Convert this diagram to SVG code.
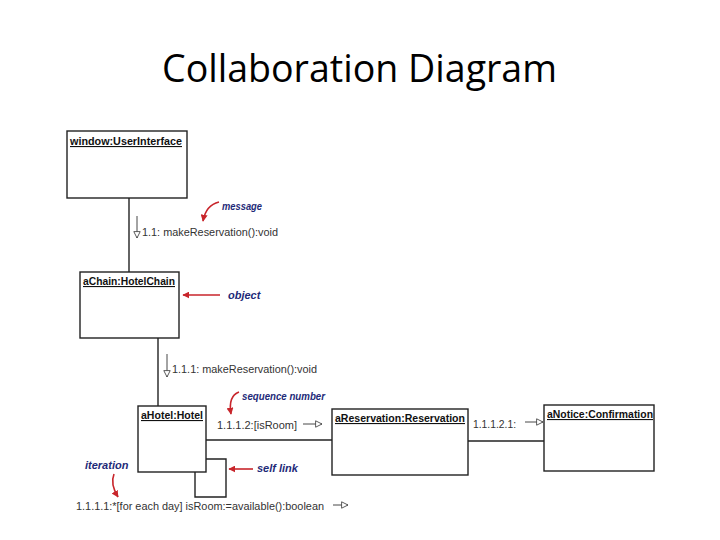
<svg xmlns="http://www.w3.org/2000/svg" width="720" height="540" viewBox="0 0 720 540">
<style>
.title{font-family:"Open Sans","Liberation Sans",sans-serif;font-size:38px;fill:#000}
.box{fill:#fff;stroke:#222;stroke-width:1.4}
.name{font-family:"Liberation Sans",Arial,sans-serif;font-size:11px;font-weight:bold;fill:#111;text-decoration:underline}
.msg{font-family:"Liberation Sans",Arial,sans-serif;font-size:11px;fill:#333}
.lnk{fill:none;stroke:#222;stroke-width:1.4}
.ann{font-family:"Liberation Sans",Arial,sans-serif;font-size:11px;font-style:italic;font-weight:bold;fill:#1e2a78}
.red{fill:none;stroke:#c8252b;stroke-width:1.6}
.dir{fill:none;stroke:#333;stroke-width:0.9}
</style>
<defs>
<marker id="ra" viewBox="0 0 10 10" refX="9" refY="5" markerWidth="7" markerHeight="7" markerUnits="userSpaceOnUse" orient="auto"><path d="M0,0 L10,5 L0,10 Z" fill="#c8252b"/></marker>
<marker id="oa" viewBox="0 0 10 10" refX="9" refY="5" markerWidth="8" markerHeight="8" markerUnits="userSpaceOnUse" orient="auto"><path d="M1,1 L9,5 L1,9 Z" fill="#fff" stroke="#333" stroke-width="1"/></marker>
</defs>
<rect width="720" height="540" fill="#fff"/>
<text class="title" x="162" y="82" textLength="395" lengthAdjust="spacingAndGlyphs">Collaboration Diagram</text>

<g id="connectors">
<line class="lnk" x1="129" y1="198" x2="129" y2="272"/>
<line class="lnk" x1="158" y1="338" x2="158" y2="406"/>
<line class="lnk" x1="206" y1="440" x2="332" y2="440"/>
<line class="lnk" x1="468" y1="441" x2="544" y2="441"/>
<path class="lnk" d="M206,459 H226 V497 H195 V472"/>
<line class="dir" x1="137" y1="216" x2="137" y2="238" marker-end="url(#oa)"/>
<line class="dir" x1="167" y1="354" x2="167" y2="377" marker-end="url(#oa)"/>
<line class="dir" x1="303" y1="424" x2="322" y2="424" marker-end="url(#oa)"/>
<line class="dir" x1="525" y1="422" x2="543" y2="422" marker-end="url(#oa)"/>
<line class="dir" x1="333" y1="505" x2="348" y2="505" marker-end="url(#oa)"/>
</g>

<g id="window">
<rect class="box" x="67" y="131" width="120" height="67"/>
<text class="name" x="70" y="145" textLength="112" lengthAdjust="spacingAndGlyphs">window:UserInterface</text>
</g>
<g id="aChain">
<rect class="box" x="80" y="272" width="99" height="66"/>
<text class="name" x="83" y="285" textLength="92" lengthAdjust="spacingAndGlyphs">aChain:HotelChain</text>
</g>
<g id="aHotel">
<rect class="box" x="138" y="406" width="68" height="66"/>
<text class="name" x="141" y="419" textLength="62" lengthAdjust="spacingAndGlyphs">aHotel:Hotel</text>
</g>
<g id="aReservation">
<rect class="box" x="332" y="409" width="136" height="66"/>
<text class="name" x="335" y="422" textLength="130" lengthAdjust="spacingAndGlyphs">aReservation:Reservation</text>
</g>
<g id="aNotice">
<rect class="box" x="544" y="405" width="110" height="66"/>
<text class="name" x="547" y="418" textLength="106" lengthAdjust="spacingAndGlyphs">aNotice:Confirmation</text>
</g>

<g id="labels">
<text class="msg" x="142" y="236" textLength="136" lengthAdjust="spacingAndGlyphs">1.1: makeReservation():void</text>
<text class="msg" x="172" y="373" textLength="145" lengthAdjust="spacingAndGlyphs">1.1.1: makeReservation():void</text>
<text class="msg" x="217" y="429" textLength="80" lengthAdjust="spacingAndGlyphs">1.1.1.2:[isRoom]</text>
<text class="msg" x="473" y="428" textLength="43" lengthAdjust="spacingAndGlyphs">1.1.1.2.1:</text>
<text class="msg" x="76" y="510" textLength="248" lengthAdjust="spacingAndGlyphs">1.1.1.1:*[for each day] isRoom:=available():boolean</text>
</g>

<g id="annotations">
<text class="ann" x="222" y="210" textLength="40" lengthAdjust="spacingAndGlyphs">message</text>
<path class="red" d="M219,202 Q206,205 203,221" marker-end="url(#ra)"/>
<text class="ann" x="228" y="299">object</text>
<line class="red" x1="220" y1="295" x2="183" y2="295" marker-end="url(#ra)"/>
<text class="ann" x="242" y="400" textLength="83" lengthAdjust="spacingAndGlyphs">sequence number</text>
<path class="red" d="M239,392 Q228,396 231,414" marker-end="url(#ra)"/>
<text class="ann" x="257" y="472">self link</text>
<line class="red" x1="253" y1="469" x2="229" y2="469" marker-end="url(#ra)"/>
<text class="ann" x="85" y="469">iteration</text>
<path class="red" d="M114,474 Q110,484 118,497" marker-end="url(#ra)"/>
</g>
</svg>
